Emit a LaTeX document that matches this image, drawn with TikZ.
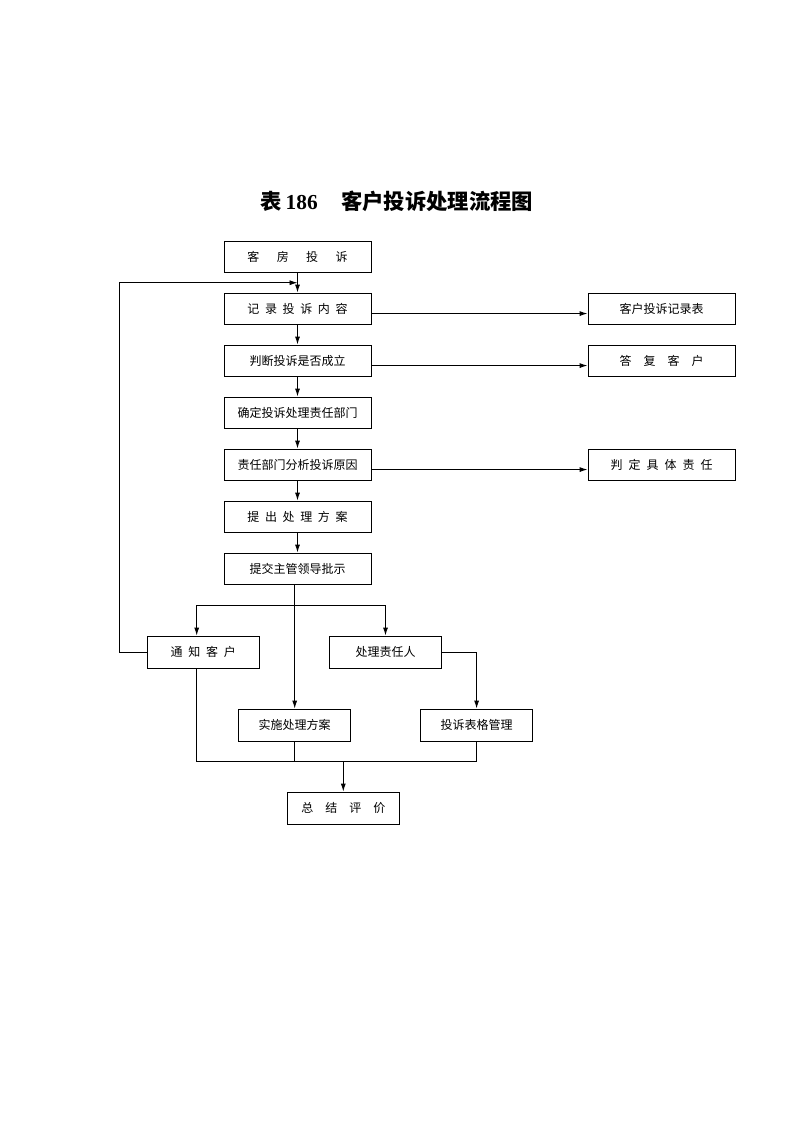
\documentclass[tikz,border=0pt]{standalone}
\usepackage{fontspec}
\setmainfont{Liberation Serif}
\newfontfamily\cjk{Noto Sans CJK SC}
\usetikzlibrary{arrows.meta}
\newcommand\mygap[1]{\hspace{#1em}}
\tikzset{
  box/.style={draw, line width=0.7pt, inner sep=0pt, font=\cjk\fontsize{9pt}{11pt}\selectfont},
  bigbox/.style={box, minimum width=110.25pt, minimum height=23.25pt},
  smallbox/.style={box, minimum width=84pt, minimum height=24pt},
  conn/.style={line width=0.7pt},
  arr/.style={conn, -{Latex[length=6pt,width=3.8pt]}}
}
\begin{document}
\begin{tikzpicture}[x=0.75pt,y=-0.75pt]
\useasboundingbox (0,0) rectangle (793,1122);
\node[font=\fontsize{16pt}{18pt}\selectfont\bfseries] (title) at (397,201)
  {{\cjk 表}\,186\mygap{1.1}{\cjk 客户投诉处理流程图}};
\node[bigbox] (A) at (297.5,256.5) {客\mygap{1.45}房\mygap{1.45}投\mygap{1.45}诉};
\node[bigbox] (B) at (297.5,308.5) {记\mygap{0.47}录\mygap{0.47}投\mygap{0.47}诉\mygap{0.47}内\mygap{0.47}容};
\node[bigbox] (C) at (297.5,360.5) {判断投诉是否成立};
\node[bigbox] (D) at (297.5,412.5) {确定投诉处理责任部门};
\node[bigbox] (E) at (297.5,464.5) {责任部门分析投诉原因};
\node[bigbox] (F) at (297.5,516.5) {提\mygap{0.47}出\mygap{0.47}处\mygap{0.47}理\mygap{0.47}方\mygap{0.47}案};
\node[bigbox] (G) at (297.5,568.5) {提交主管领导批示};
\node[bigbox] (R1) at (661.5,308.5) {客户投诉记录表};
\node[bigbox] (R2) at (661.5,360.5) {答\mygap{1}复\mygap{1}客\mygap{1}户};
\node[bigbox] (R3) at (661.5,464.5) {判\mygap{0.5}定\mygap{0.5}具\mygap{0.5}体\mygap{0.5}责\mygap{0.5}任};
\node[smallbox] (H) at (203.3,652) {通\mygap{0.48}知\mygap{0.48}客\mygap{0.48}户};
\node[smallbox] (I) at (385.5,652) {处理责任人};
\node[smallbox] (J) at (294.7,725) {实施处理方案};
\node[smallbox] (K) at (476.6,725) {投诉表格管理};
\node[smallbox] (L) at (343.3,808) {总\mygap{1}结\mygap{1}评\mygap{1}价};
% main column
\draw[arr] (A) -- (B);
\draw[arr] (B) -- (C);
\draw[arr] (C) -- (D);
\draw[arr] (D) -- (E);
\draw[arr] (E) -- (F);
\draw[arr] (F) -- (G);
% side arrows
\draw[arr] ([yshift=-3.8pt]B.east) -- ([yshift=-3.8pt]R1.west);
\draw[arr] ([yshift=-3.8pt]C.east) -- ([yshift=-3.8pt]R2.west);
\draw[arr] ([yshift=-3.8pt]E.east) -- ([yshift=-3.8pt]R3.west);
% branch
\coordinate (hx) at (196.7,605.3);
\coordinate (br) at (294.7,605.3);
\draw[arr] (J.north |- G.south) -- (J.north);
\draw[arr] (hx) -- (hx |- H.north);
\draw[conn] (hx) -- (br -| I.north);
\draw[arr] (br -| I.north) -- (I.north);
\draw[arr] (I.east) -| (K.north);
% loop back
\coordinate (lx) at (119.3,282.7);
\draw[arr] (H.west) -| (lx) -- (lx -| A.south);
% merge
\coordinate (bt) at (343.3,761.3);
\draw[conn] (hx |- H.south) |- (bt -| K.south) -- (K.south);
\draw[conn] (J.south) -- (J.south |- bt);
\draw[arr] (bt) -- (L.north);
\end{tikzpicture}
\end{document}
